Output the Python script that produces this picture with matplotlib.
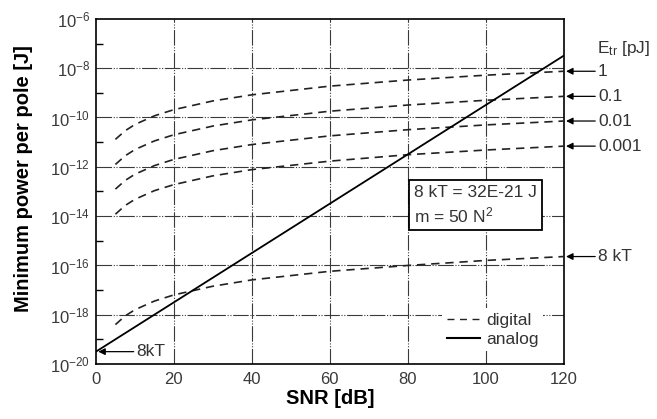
import matplotlib
matplotlib.use("Agg")
import matplotlib.pyplot as plt
from matplotlib.ticker import FixedLocator, FixedFormatter, NullFormatter

plt.rcParams['font.family'] = ['Liberation Sans', 'DejaVu Sans']
plt.rcParams['mathtext.default'] = 'regular'

# SNR sample points [dB] for the digital curves
snr_digital = [5, 7.5, 10, 15, 20, 30, 40, 60, 80, 100, 120]

# Minimum power per pole [J], digital implementation, per transistor switching energy
digital_1pJ = [1.3e-11, 2.9e-11, 5.2e-11, 1.17e-10, 2.08e-10, 4.7e-10, 8.3e-10,
               1.87e-9, 3.3e-9, 5.2e-9, 7.5e-9]
digital_0p1pJ = [1.25e-12, 2.8e-12, 5.0e-12, 1.12e-11, 2.0e-11, 4.5e-11, 8.0e-11,
                 1.8e-10, 3.2e-10, 5.0e-10, 7.2e-10]
digital_0p01pJ = [1.25e-13, 2.8e-13, 5.0e-13, 1.12e-12, 2.0e-12, 4.5e-12, 8.0e-12,
                  1.8e-11, 3.2e-11, 5.0e-11, 7.2e-11]
digital_0p001pJ = [1.2e-14, 2.7e-14, 4.8e-14, 1.08e-13, 1.9e-13, 4.3e-13, 7.7e-13,
                   1.7e-12, 3.1e-12, 4.8e-12, 6.9e-12]
digital_8kT = [4.0e-19, 9.0e-19, 1.6e-18, 3.6e-18, 6.4e-18, 1.44e-17, 2.6e-17,
               5.8e-17, 1.0e-16, 1.6e-16, 2.3e-16]

digital_curves = [digital_1pJ, digital_0p1pJ, digital_0p01pJ, digital_0p001pJ, digital_8kT]
curve_labels = ['1', '0.1', '0.01', '0.001', '8 kT']

# Analog implementation: straight line in log scale
snr_analog = [0, 120]
analog_power = [3.2e-20, 3.2e-8]

x_ticks = [0, 20, 40, 60, 80, 100, 120]
y_exponents = [-6, -8, -10, -12, -14, -16, -18, -20]
y_minor_exponents = [-7, -9, -11, -13, -15, -17, -19]

FS = 12.5
TXT = '#333333'

fig = plt.figure(figsize=(6.57, 4.19), dpi=100)
ax = fig.add_axes([0.146, 0.131, 0.712, 0.824])

ax.set_yscale('log')
ax.set_xlim(0, 120)
ax.set_ylim(1e-20, 1e-6)

grid_style = dict(color='#3a3a3a', lw=0.8, ls=(0, (14, 1.5, 1, 1.5, 1, 1.5)), zorder=1)
for xv in x_ticks[1:-1]:
    ax.axvline(xv, **grid_style)
for e in y_exponents[1:-1]:
    ax.axhline(10.0 ** e, **grid_style)

for vals in digital_curves:
    ax.plot(snr_digital, vals, color='#222222', lw=1.2, ls=(0, (5, 3.5)), zorder=3)
ax.plot(snr_analog, analog_power, color='black', lw=1.3, zorder=3)

# Legend proxies
ax.plot([], [], color='#222222', lw=1.0, ls=(0, (5, 4)), label='digital')
ax.plot([], [], color='black', lw=1.5, label='analog')
leg = ax.legend(loc='lower left', bbox_to_anchor=(0.722, 0.012), frameon=True,
                facecolor='white', edgecolor='none', framealpha=1.0, fontsize=FS,
                handlelength=1.9, handletextpad=0.4, labelspacing=0.22,
                borderpad=0.25, fancybox=False)
leg.set_zorder(5)
for t in leg.get_texts():
    t.set_color(TXT)

# Ticks
ax.xaxis.set_major_locator(FixedLocator(x_ticks))
ax.yaxis.set_major_locator(FixedLocator([10.0 ** e for e in y_exponents]))
ax.yaxis.set_major_formatter(FixedFormatter(
    [r'$10^{%d}$' % e for e in y_exponents]))
ax.yaxis.set_minor_locator(FixedLocator([10.0 ** e for e in y_minor_exponents]))
ax.yaxis.set_minor_formatter(NullFormatter())
ax.tick_params(axis='both', which='major', length=0, labelsize=12,
               labelcolor='#3a3a3a')
ax.tick_params(axis='x', which='major', pad=6)
ax.tick_params(axis='y', which='major', pad=4)
ax.tick_params(axis='y', which='minor', direction='in', length=5, width=1.0,
               left=True, right=False)
ax.tick_params(axis='x', which='minor', length=0)
for s in ax.spines.values():
    s.set_linewidth(1.2)

ax.set_xlabel('SNR [dB]', fontsize=14.5, fontweight='bold', labelpad=1)
ax.set_ylabel('Minimum power per pole [J]', fontsize=14.5, fontweight='bold')
ax.yaxis.set_label_coords(-0.135, 0.536)

# Right-hand labels with arrows pointing at the curve ends
arrow_kw = dict(arrowstyle='-|>', color='black', lw=0.9, mutation_scale=10,
                shrinkA=0, shrinkB=0)
for vals, lab in zip(digital_curves, curve_labels):
    ax.annotate(lab, xy=(120.6, vals[-1]), xycoords='data',
                xytext=(23, 0), textcoords='offset points',
                ha='left', va='center', fontsize=FS, color=TXT,
                arrowprops=arrow_kw, annotation_clip=False)

ax.text(1.071, 0.9, r'E$_{tr}$ [pJ]', transform=ax.transAxes,
        fontsize=FS, color=TXT, ha='left', va='baseline')

ax.annotate('8kT', xy=(0.6, analog_power[0]), xycoords='data',
            xytext=(10.4, analog_power[0]), textcoords='data',
            ha='left', va='center', fontsize=FS, color=TXT,
            arrowprops=arrow_kw, annotation_clip=False, zorder=6)

ax.text(81.6, 2.8e-14, '8 kT = 32E-21 J\nm = 50 N$^2$', fontsize=FS,
        color=TXT, ha='left', va='center', linespacing=1.35, zorder=6,
        bbox=dict(boxstyle='square,pad=0.28', facecolor='white',
                  edgecolor='black', lw=1.3))

fig.savefig('out.png', dpi=100)
